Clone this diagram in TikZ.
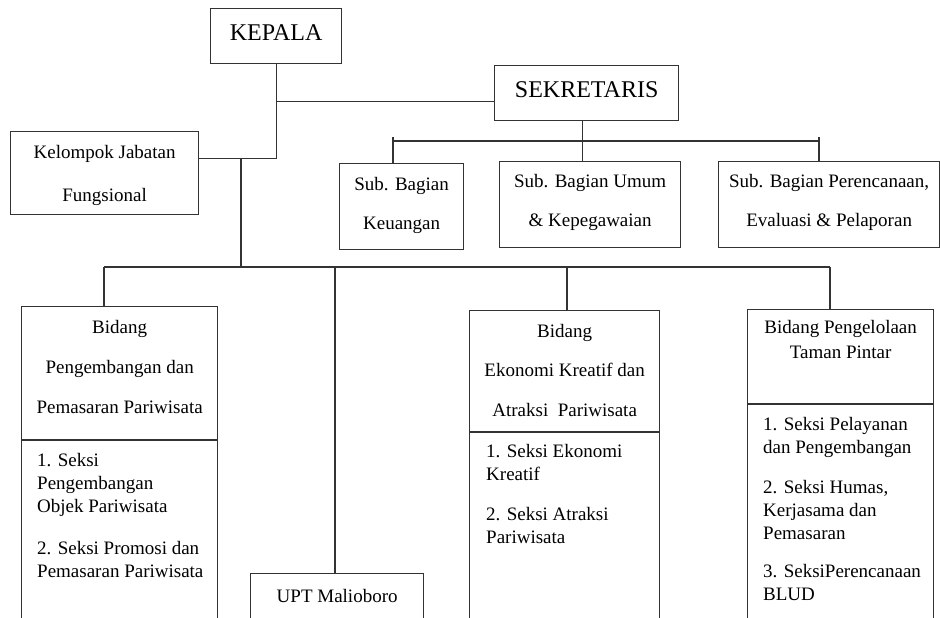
\documentclass[tikz,border=0pt]{standalone}
\usepackage{fontspec}
\setmainfont{Liberation Serif}
\usetikzlibrary{positioning}

\tikzset{
  box/.style={draw=black!80, line width=1.3pt, inner sep=0pt, anchor=north west},
  link/.style={draw=black!80, line width=1.3pt},
  head/.style={inner sep=0pt, text height=16pt, font=\fontsize{24}{28}\selectfont},
  txt/.style={inner sep=0pt, align=center, font=\fontsize{19}{#1}\selectfont},
  lst/.style={inner sep=0pt, align=left, anchor=north west, font=\fontsize{19}{23}\selectfont}
}

\begin{document}
\begin{tikzpicture}[x=1pt,y=-1pt]
\useasboundingbox (0,0) rectangle (940,618);
\clip (0,0) rectangle (940,618);

\node[box, minimum width=131pt, minimum height=55pt] (kepala) at (210,8) {};
\node[head, below=16pt of kepala.north] (kepalatxt) {KEPALA};
\node[box, minimum width=184pt, minimum height=55pt] (sekretaris) at (494,65) {};
\node[head, below=16pt of sekretaris.north] (sekretaristxt) {SEKRETARIS};
\node[box, minimum width=188pt, minimum height=83pt] (kelompok) at (10,131) {};
\node[txt=43pt, below=14pt of kelompok.north] (kelompoktxt) {Kelompok Jabatan\\Fungsional};

\node[box, minimum width=124pt, minimum height=86pt] (keuangan) at (339,163) {};
\node[txt=39pt, below=14pt of keuangan.north] (keuangantxt) {Sub. Bagian\\Keuangan};
\node[box, minimum width=181pt, minimum height=86pt] (umum) at (499,161) {};
\node[txt=39pt, below=13pt of umum.north] (umumtxt) {Sub. Bagian Umum\\\& Kepegawaian};
\node[box, minimum width=221pt, minimum height=86pt] (perenc) at (718,161) {};
\node[txt=39pt, below=13pt of perenc.north] (perenctxt) {Sub. Bagian Perencanaan,\\Evaluasi \& Pelaporan};

\node[box, minimum width=196pt, minimum height=340pt] (peng) at (21,306) {};
\node[txt=40pt, below=14pt of peng.north] (pengtxt) {Bidang\\Pengembangan dan\\Pemasaran Pariwisata};
\node[lst] (penglst) at (37,453) {1. Seksi\\Pengembangan\\Objek Pariwisata\\[19pt]2. Seksi Promosi dan\\Pemasaran Pariwisata};
\node[box, minimum width=173pt, minimum height=60pt] (upt) at (250,573) {};
\node[txt=23pt, below=16pt of upt.north] (upttxt) {UPT Malioboro};
\node[box, minimum width=190pt, minimum height=330pt] (ekon) at (469,310) {};
\node[txt=39.5pt, below=14pt of ekon.north] (ekontxt) {Bidang\\Ekonomi Kreatif dan\\Atraksi~ Pariwisata};
\node[lst] (ekonlst) at (486,444) {1. Seksi Ekonomi\\Kreatif\\[17pt]2. Seksi Atraksi\\Pariwisata};
\node[box, minimum width=186pt, minimum height=330pt] (taman) at (747,309) {};
\node[txt=25pt, below=11pt of taman.north] (tamantxt) {Bidang Pengelolaan\\Taman Pintar};
\node[lst] (tamanlst) at (763,417) {1. Seksi Pelayanan\\dan Pengembangan\\[17pt]2. Seksi Humas,\\Kerjasama dan\\Pemasaran\\[15pt]3. SeksiPerencanaan\\BLUD};

\draw[link] (peng.west |- 0,440) -- (peng.east |- 0,440);
\draw[link] (ekon.west |- 0,432) -- (ekon.east |- 0,432);
\draw[link] (taman.west |- 0,404) -- (taman.east |- 0,404);

\coordinate (ks) at ([yshift=-8.5pt]sekretaris.west);
\coordinate (kj) at (kepala.south |- 0,158.5);
\coordinate (bj) at (241,158.5);
\coordinate (busl) at (104,267);
\coordinate (busr) at (830,267);
\draw[link] (kepala.south) -- (kj);
\draw[link] (kepala.south |- ks) -- (ks);
\draw[link] (kj) -- (kelompok.east |- kj);
\draw[link] (bj) -- (bj |- busl);
\draw[link] (busl) -- (busr);
\draw[link] (busl) -- (busl |- peng.north);
\draw[link] (335,267) -- (335,267 |- upt.north);
\draw[link] (567,267) -- (567,267 |- ekon.north);
\draw[link] (busr) -- (busr |- taman.north);

\coordinate (sk) at ([xshift=-4pt]sekretaris.south);
\draw[link] (sk) -- (sk |- umum.north);
\draw[link] (393,141) -- (819,141);
\draw[link] (393,137) -- (393,137 |- keuangan.north);
\draw[link] (819,137) -- (819,137 |- perenc.north);
\end{tikzpicture}
\end{document}
